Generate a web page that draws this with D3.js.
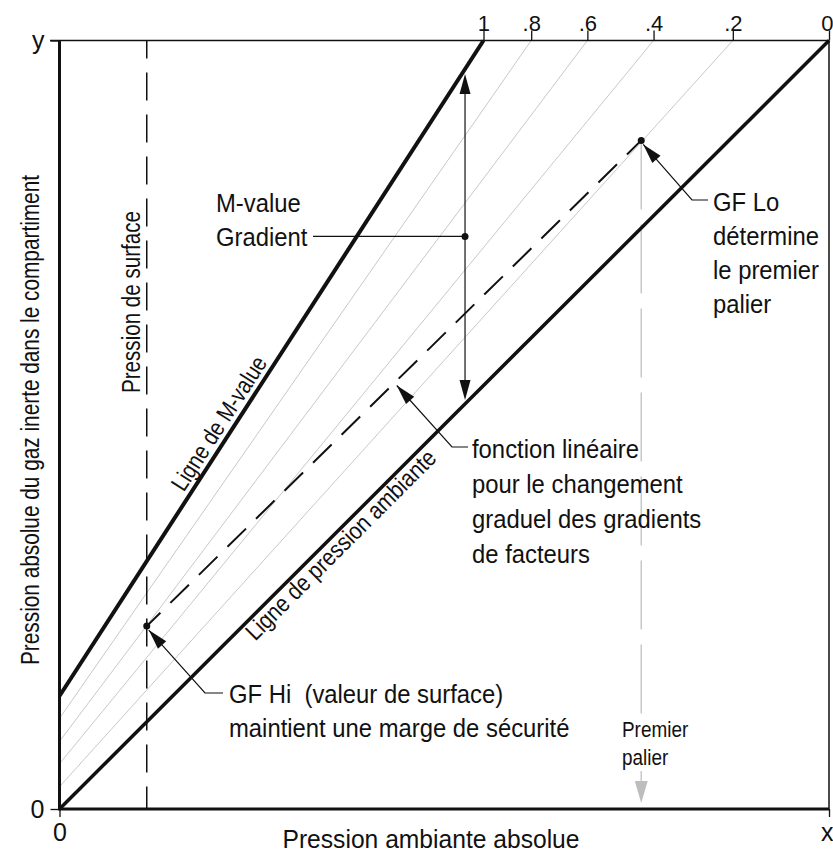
<!DOCTYPE html>
<html>
<head>
<meta charset="utf-8">
<script src="https://cdn.jsdelivr.net/npm/d3@7"></script>
<style>
body { margin: 0; background: #fff; }
text { font-family: "Liberation Sans", Arial, sans-serif; fill: #111; }
</style>
</head>
<body>
<div id="chart"></div>
<script>
// gradient factor lines: label on the top edge, x where each meets the top, y where each meets the y axis
var gfLabels = ["1", ".8", ".6", ".4", ".2", "0"];
var gfTopX = [0.551, 0.613, 0.686, 0.772, 0.875, 1.0];
var gfLeftY = [0.147, 0.118, 0.088, 0.059, 0.029, 0];
var surfaceX = 0.1134;
var gfHiPoint = [0.1134, 0.238];
var gfLoPoint = [0.756, 0.870];
var gradientPoint = [0.527, 0.745];
var yEndLabels = ["0", "y"];
var xEndLabels = ["0", "x"];

var width = 833, height = 854;

var x = d3.scaleLinear().domain([0, 1]).range([59.5, 829]);
var y = d3.scaleLinear().domain([0, 1]).range([809, 40.5]);

var svg = d3.select("#chart").append("svg")
	.attr("width", width)
	.attr("height", height);

function lineAt(p0, p1, t) {
	// y value on the segment p0-p1 at x = t
	return p0[1] + (p1[1] - p0[1]) * (t - p0[0]) / (p1[0] - p0[0]);
}

function arrowHead(sel, tip, from, len, wid, color) {
	var dx = tip[0] - from[0], dy = tip[1] - from[1], d = Math.hypot(dx, dy);
	var ux = dx / d, uy = dy / d;
	var bx = tip[0] - ux * len, by = tip[1] - uy * len;
	var pts = [tip, [bx - uy * wid / 2, by + ux * wid / 2], [bx + uy * wid / 2, by - ux * wid / 2]];
	sel.append("path")
		.attr("d", "M" + pts.join("L") + "Z")
		.attr("fill", color);
}

// multi-line text block, narrowed a bit to look like the condensed face of the original
function lines(sel, rows, x0, y0, dy, size, sx) {
	var t = sel.append("text")
		.attr("transform", "translate(" + x0 + "," + y0 + ") scale(" + sx + ",1)")
		.attr("font-size", size)
		.style("white-space", "pre");
	rows.forEach(function (r, i) {
		t.append("tspan").attr("x", 0).attr("y", i * dy).text(r);
	});
	return t;
}

// light gray gradient factor lines
var gray = svg.append("g");
for (var i = 1; i < gfLabels.length - 1; i++) {
	gray.append("line")
		.attr("x1", x(0)).attr("y1", y(gfLeftY[i]))
		.attr("x2", x(gfTopX[i])).attr("y2", y(1))
		.attr("stroke", "#c8c8c8")
		.attr("stroke-width", 1);
}

// surface pressure (dashed vertical)
svg.append("line")
	.attr("x1", x(surfaceX)).attr("y1", y(1))
	.attr("x2", x(surfaceX)).attr("y2", y(0))
	.attr("stroke", "#111")
	.attr("stroke-width", 1.5)
	.attr("stroke-dasharray", "28,14")
	.attr("stroke-dashoffset", 10);

// first stop, gray dashed drop
var dropTip = [x(gfLoPoint[0]), y(0) - 6];
svg.append("line")
	.attr("x1", x(gfLoPoint[0])).attr("y1", y(gfLoPoint[1]))
	.attr("x2", x(gfLoPoint[0])).attr("y2", dropTip[1] - 20)
	.attr("stroke", "#c8c8c8")
	.attr("stroke-width", 1.5)
	.attr("stroke-dasharray", "69,15");
arrowHead(svg, dropTip, [x(gfLoPoint[0]), y(gfLoPoint[1])], 22, 13, "#bdbdbd");

// GF Hi -> GF Lo linear function
svg.append("line")
	.attr("x1", x(gfLoPoint[0])).attr("y1", y(gfLoPoint[1]))
	.attr("x2", x(gfHiPoint[0])).attr("y2", y(gfHiPoint[1]))
	.attr("stroke", "#111")
	.attr("stroke-width", 2)
	.attr("stroke-dasharray", "26,14")
	.attr("stroke-dashoffset", 6);

// M-value line and ambient pressure line
svg.append("line")
	.attr("x1", x(0)).attr("y1", y(gfLeftY[0]))
	.attr("x2", x(gfTopX[0])).attr("y2", y(1))
	.attr("stroke", "#111")
	.attr("stroke-width", 4);
svg.append("line")
	.attr("x1", x(0)).attr("y1", y(gfLeftY[5]))
	.attr("x2", x(gfTopX[5])).attr("y2", y(1))
	.attr("stroke", "#111")
	.attr("stroke-width", 3.5);

// frame
svg.append("line").attr("x1", 50).attr("y1", y(1)).attr("x2", x(1)).attr("y2", y(1))
	.attr("stroke", "#111").attr("stroke-width", 1.5);
svg.append("line").attr("x1", x(1)).attr("y1", y(1)).attr("x2", x(1)).attr("y2", y(0))
	.attr("stroke", "#111").attr("stroke-width", 1.5);
svg.append("line").attr("x1", x(0)).attr("y1", y(1)).attr("x2", x(0)).attr("y2", y(0) + 1.5)
	.attr("stroke", "#111").attr("stroke-width", 3);
svg.append("line").attr("x1", x(0)).attr("y1", y(0)).attr("x2", x(1)).attr("y2", y(0))
	.attr("stroke", "#111").attr("stroke-width", 3);

// axes
var topAxis = svg.append("g")
	.attr("transform", "translate(0," + y(1) + ")")
	.call(d3.axisTop(x).tickValues(gfTopX)
		.tickFormat(function (d, i) { return gfLabels[i]; })
		.tickSize(10).tickPadding(0));
var leftAxis = svg.append("g")
	.attr("transform", "translate(" + x(0) + ",0)")
	.call(d3.axisLeft(y).tickValues([0, 1])
		.tickFormat(function (d, i) { return yEndLabels[i]; })
		.tickSize(9).tickPadding(6));
var bottomAxis = svg.append("g")
	.attr("transform", "translate(0," + y(0) + ")")
	.call(d3.axisBottom(x).tickValues([0, 1])
		.tickFormat(function (d, i) { return xEndLabels[i]; })
		.tickSize(8).tickPadding(6));
[topAxis, leftAxis, bottomAxis].forEach(function (a) {
	a.select(".domain").remove();
	a.selectAll(".tick line").attr("stroke", "#111").attr("stroke-width", 1.3);
	a.selectAll(".tick text").attr("fill", "#111").style("font-family", "'Liberation Sans', Arial, sans-serif");
});
topAxis.selectAll(".tick text").attr("font-size", 22);
leftAxis.selectAll(".tick text").attr("font-size", 25);
bottomAxis.selectAll(".tick text").attr("font-size", 25);
// keep the labels at the right edge inside the picture
topAxis.selectAll(".tick text").filter(function (d, i) { return i === gfLabels.length - 1; })
	.attr("text-anchor", "end").attr("x", 833 - x(1));
bottomAxis.selectAll(".tick text").filter(function (d, i) { return i === 1; })
	.attr("text-anchor", "end").attr("x", 833 - x(1));

// axis titles
svg.append("text")
	.attr("x", 431).attr("y", 848)
	.attr("text-anchor", "middle")
	.attr("font-size", 26)
	.attr("textLength", 297)
	.attr("lengthAdjust", "spacingAndGlyphs")
	.text("Pression ambiante absolue");
svg.append("text")
	.attr("transform", "translate(39,420) rotate(-90)")
	.attr("text-anchor", "middle")
	.attr("font-size", 26)
	.attr("textLength", 490)
	.attr("lengthAdjust", "spacingAndGlyphs")
	.text("Pression absolue du gaz inerte dans le compartiment");
svg.append("text")
	.attr("transform", "translate(140,302) rotate(-90)")
	.attr("text-anchor", "middle")
	.attr("font-size", 26)
	.attr("textLength", 182)
	.attr("lengthAdjust", "spacingAndGlyphs")
	.text("Pression de surface");

// labels along the two main lines
function lineLabel(p0, p1, t, offset, label, size, len) {
	var a = Math.atan2(y(p1[1]) - y(p0[1]), x(p1[0]) - x(p0[0]));
	var px = x(p0[0]) + (x(p1[0]) - x(p0[0])) * t;
	var py = y(p0[1]) + (y(p1[1]) - y(p0[1])) * t;
	px += Math.sin(a) * offset;
	py += -Math.cos(a) * offset;
	svg.append("text")
		.attr("transform", "translate(" + px + "," + py + ") rotate(" + (a * 180 / Math.PI) + ")")
		.attr("font-size", size)
		.attr("textLength", len)
		.attr("lengthAdjust", "spacingAndGlyphs")
		.text(label);
}
lineLabel([0, gfLeftY[0]], [gfTopX[0], 1], 0.305, 6, "Ligne de M-value", 24, 155);
lineLabel([0, 0], [1, 1], 0.236, -20, "Ligne de pression ambiante", 24, 258);

// M-value gradient double arrow
var gx = x(gradientPoint[0]);
var mTop = y(lineAt([0, gfLeftY[0]], [gfTopX[0], 1], gradientPoint[0])) + 5;
var aBot = y(gradientPoint[0]) - 4;
svg.append("line")
	.attr("x1", gx).attr("y1", mTop + 10)
	.attr("x2", gx).attr("y2", aBot - 10)
	.attr("stroke", "#111").attr("stroke-width", 1.2);
arrowHead(svg, [gx, mTop], [gx, aBot], 20, 11, "#111");
arrowHead(svg, [gx, aBot], [gx, mTop], 20, 11, "#111");
svg.append("line")
	.attr("x1", 313).attr("y1", y(gradientPoint[1]))
	.attr("x2", gx).attr("y2", y(gradientPoint[1]))
	.attr("stroke", "#111").attr("stroke-width", 1.2);
lines(svg, ["M-value", "Gradient"], 216, 212, 34, 26.5, 0.9);

// leaders
function leader(tip, elbow, end) {
	svg.append("path")
		.attr("d", "M" + [end, elbow, tip].join("L"))
		.attr("fill", "none")
		.attr("stroke", "#111")
		.attr("stroke-width", 1.2);
	arrowHead(svg, tip, elbow, 20, 11, "#111");
}
leader([x(gfLoPoint[0]) + 2, y(gfLoPoint[1]) + 4], [692, 200], [708, 200]);
leader([x(gfHiPoint[0]) + 2, y(gfHiPoint[1]) + 4], [205, 693], [223, 693]);
var fx = 0.437;
leader([x(fx) + 1, y(lineAt(gfHiPoint, gfLoPoint, fx)) + 4], [452, 447], [468, 447]);

lines(svg, ["GF Lo", "détermine", "le premier", "palier"], 713, 211, 34, 26.5, 0.9);
lines(svg, ["GF Hi  (valeur de surface)", "maintient une marge de sécurité"], 229, 703, 34, 26.5, 0.9);
lines(svg, ["fonction linéaire", "pour le changement", "graduel des gradients", "de facteurs"], 472, 458, 35, 26.5, 0.9);

svg.append("rect")
	.attr("x", 619).attr("y", 716)
	.attr("width", 54).attr("height", 55)
	.attr("fill", "#fff");
lines(svg, ["Premier", "palier"], 622, 737, 28, 21.5, 0.88);

// points
[gfHiPoint, gfLoPoint, gradientPoint].forEach(function (p) {
	svg.append("circle")
		.attr("cx", x(p[0])).attr("cy", y(p[1]))
		.attr("r", 3.5)
		.attr("fill", "#111");
});
</script>
</body>
</html>
